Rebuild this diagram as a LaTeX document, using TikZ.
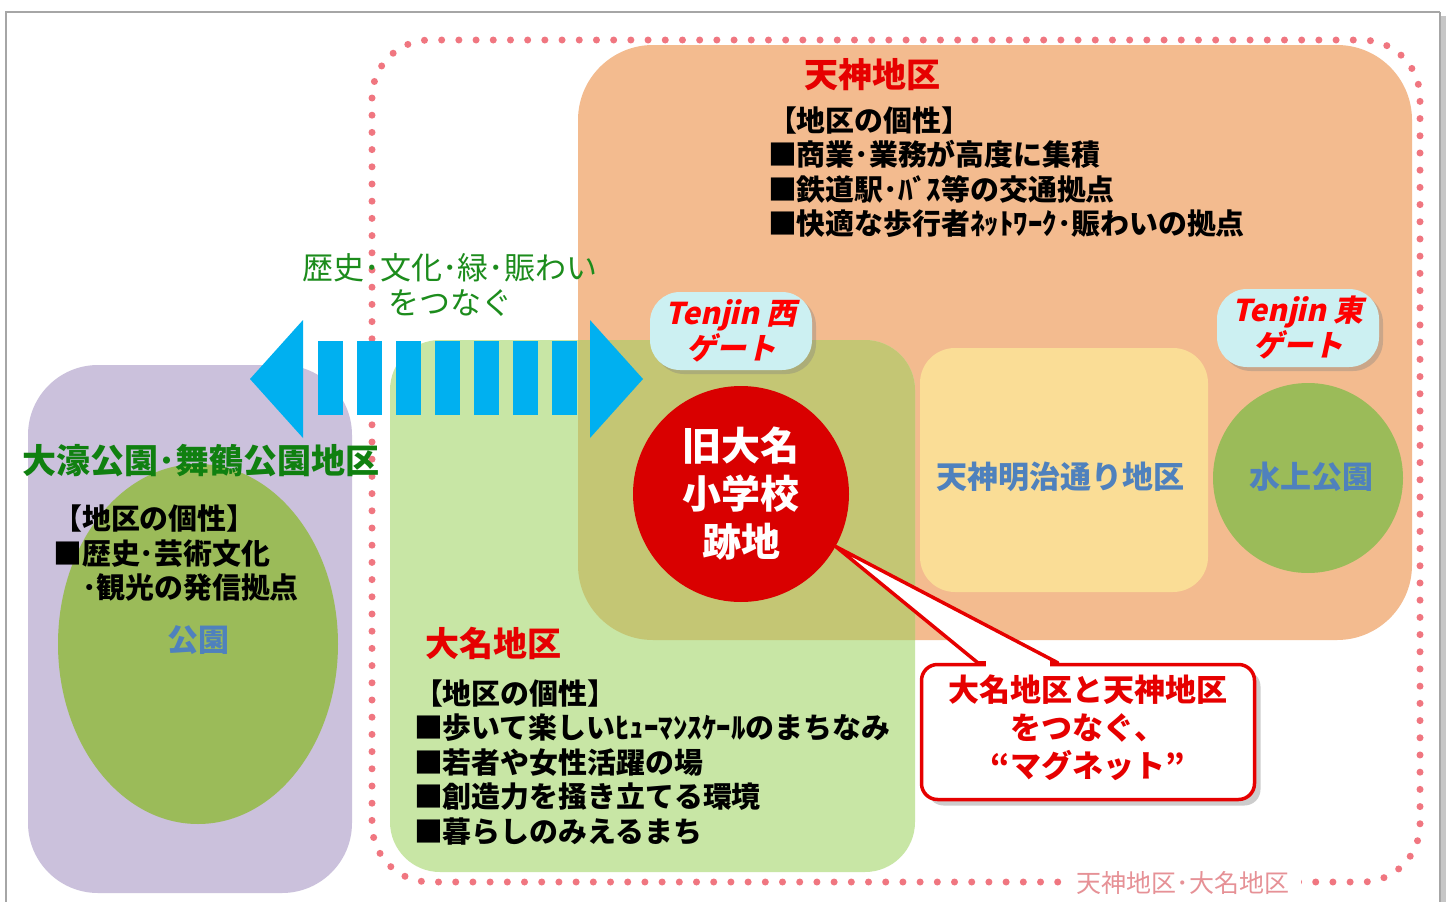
\documentclass[tikz,border=0pt]{standalone}
\usepackage{fontspec}
\setmainfont{Noto Sans CJK JP}
\newfontfamily\gatefont[FakeSlant=0.22]{Noto Sans CJK JP}
\usetikzlibrary{positioning, calc, shadows}

\definecolor{tenjinOrange}{RGB}{243,187,143}
\definecolor{daimyoGreen}{RGB}{200,230,165}
\definecolor{overlapOlive}{RGB}{196,198,116}
\definecolor{ohoriPurple}{RGB}{203,193,220}
\definecolor{parkGreen}{RGB}{155,187,89}
\definecolor{meijiYellow}{RGB}{250,221,150}
\definecolor{labelBlue}{RGB}{79,129,189}
\definecolor{titleRed}{RGB}{230,0,0}
\definecolor{siteRed}{RGB}{217,0,0}
\definecolor{arrowBlue}{RGB}{0,176,240}
\definecolor{gateCyan}{RGB}{204,240,242}
\definecolor{dotPink}{RGB}{240,118,128}
\definecolor{notePink}{RGB}{230,145,150}
\definecolor{captionGreen}{RGB}{28,140,28}
\definecolor{titleGreen}{RGB}{16,128,16}

\tikzstyle{areatitle} =[font=\fontsize{34}{40}\selectfont\bfseries, text=titleRed, inner sep=0pt]
\tikzstyle{listtext} =[font=\fontsize{28.9}{34.5}\selectfont\bfseries, align=left, inner sep=0pt]
\tikzstyle{placelabel} =[font=\fontsize{31}{36}\selectfont\bfseries, text=labelBlue, inner sep=0pt]
\tikzstyle{gatebox} =[fill=gateCyan, rounded corners=30pt, minimum width=162pt, minimum height=78pt, inner sep=0pt, align=center, text=red, font=\gatefont\fontsize{30}{35}\selectfont\bfseries, drop shadow={shadow xshift=4pt, shadow yshift=-4pt, opacity=0.35}]

\begin{document}
\begin{tikzpicture}[x=1pt, y=-1pt]
\useasboundingbox (0,0) rectangle (1452,902);
\fill[white] (0,0) rectangle (1452,902);

% frame
\draw[gray!45, line width=5pt] (1443,16) -- (1443,902);
\draw[gray!70, line width=1.5pt] (1440,12) -- (6,12) -- (6,902);
\draw[gray!70, line width=1.5pt] (1440,12) -- (1440,902);

% district areas
\fill[tenjinOrange] (578,45) [rounded corners=75pt] rectangle (1412,640);
\fill[daimyoGreen] (390,340) [rounded corners=50pt] rectangle (915,872);
\begin{scope}
\clip (578,45) [rounded corners=75pt] rectangle (1412,640);
\fill[overlapOlive] (390,340) [rounded corners=50pt] rectangle (915,872);
\end{scope}
\fill[meijiYellow] (920,348) [rounded corners=35pt] rectangle (1208,592);
\fill[parkGreen] (1308,478) circle (95);
\fill[ohoriPurple] (28,365) [rounded corners=70pt] rectangle (352,893);
\fill[parkGreen] (198,644) ellipse [x radius=140, y radius=180];

% dotted boundary
\draw[dotPink, line width=7pt, line cap=round, dash pattern=on 0pt off 17.2pt, rounded corners=58pt]
	(372,40) rectangle (1420,882);

% link arrow
\fill[arrowBlue] (250,379) -- (303,320) -- (303,438) -- cycle;
\fill[arrowBlue] (590,320) -- (643,379) -- (590,438) -- cycle;
\foreach \i in {0,...,6}
	\fill[arrowBlue] ({318+39*\i},341) rectangle ++(25,74);

\node (linkCaption) [align=center, inner sep=0pt, text=captionGreen, font=\fontsize{31}{35}\selectfont] at (450,285) {歴史･文化･緑･賑わい\\をつなぐ};

% Tenjin
\node (tenjinTitle) [areatitle] at (872,75) {天神地区};
\node (tenjinList) [listtext, below=15pt of tenjinTitle.south west, anchor=north west, xshift=-36pt] {【地区の個性】\\■商業･業務が高度に集積\\■鉄道駅･ﾊﾞｽ等の交通拠点\\■快適な歩行者ﾈｯﾄﾜｰｸ･賑わいの拠点};
\node (meijiLabel) [placelabel] at (1060,477) {天神明治通り地区};
\node (suijoLabel) [placelabel] at (1311,477) {水上公園};

% Ohori / Maizuru
\node (ohoriTitle) [inner sep=0pt, text=titleGreen, font=\fontsize{34}{40}\selectfont\bfseries] at (201,461) {大濠公園･舞鶴公園地区};
\node (ohoriList) [listtext, anchor=north west] at (53,505) {【地区の個性】\\■歴史･芸術文化\\\hspace*{1em}･観光の発信拠点};
\node (parkLabel) [placelabel] at (198,640) {公園};

% Daimyo
\node (daimyoTitle) [areatitle] at (493,643) {大名地区};
\node (daimyoList) [listtext, below=20pt of daimyoTitle.south west, anchor=north west, xshift=-11pt] {【地区の個性】\\■歩いて楽しいﾋｭｰﾏﾝｽｹｰﾙのまちなみ\\■若者や女性活躍の場\\■創造力を掻き立てる環境\\■暮らしのみえるまち};

% gates
\node (westGate) [gatebox] at (731,331) {Tenjin 西\\ゲート};
\node (eastGate) [gatebox] at (1298,328) {Tenjin 東\\ゲート};

% site and note
\node (siteCircle) [circle, fill=siteRed, minimum size=216pt, inner sep=0pt, align=center, text=white, font=\fontsize{39}{48}\selectfont\bfseries] at (741,494) {旧大名\\小学校\\跡地};

\node (magnetNote) [draw=titleRed, line width=3.5pt, fill=white, rounded corners=16pt, minimum width=333pt, minimum height=135pt, inner sep=0pt, drop shadow={shadow xshift=6pt, shadow yshift=-6pt, opacity=0.4}] at (1088,732) {};
\filldraw[fill=white, draw=titleRed, line width=3.5pt, line join=round]
	(siteCircle.-29) -- ($(magnetNote.north west)+(58,0)$) -- ($(magnetNote.north west)+(138,0)$) -- cycle;
\fill[white] ($(magnetNote.north west)+(66,-1.5)$) rectangle ($(magnetNote.north west)+(130,6)$);
\node (magnetText) [align=center, inner sep=0pt, text=titleRed, font=\fontsize{31}{38}\selectfont\bfseries, yshift=4pt] at (magnetNote.center) {大名地区と天神地区\\をつなぐ、\\“マグネット”};

\node (areaLabel) [fill=white, inner xsep=12pt, inner ysep=3pt, text=notePink, font=\fontsize{25}{30}\selectfont] at (1183,883) {天神地区･大名地区};
\end{tikzpicture}
\end{document}
